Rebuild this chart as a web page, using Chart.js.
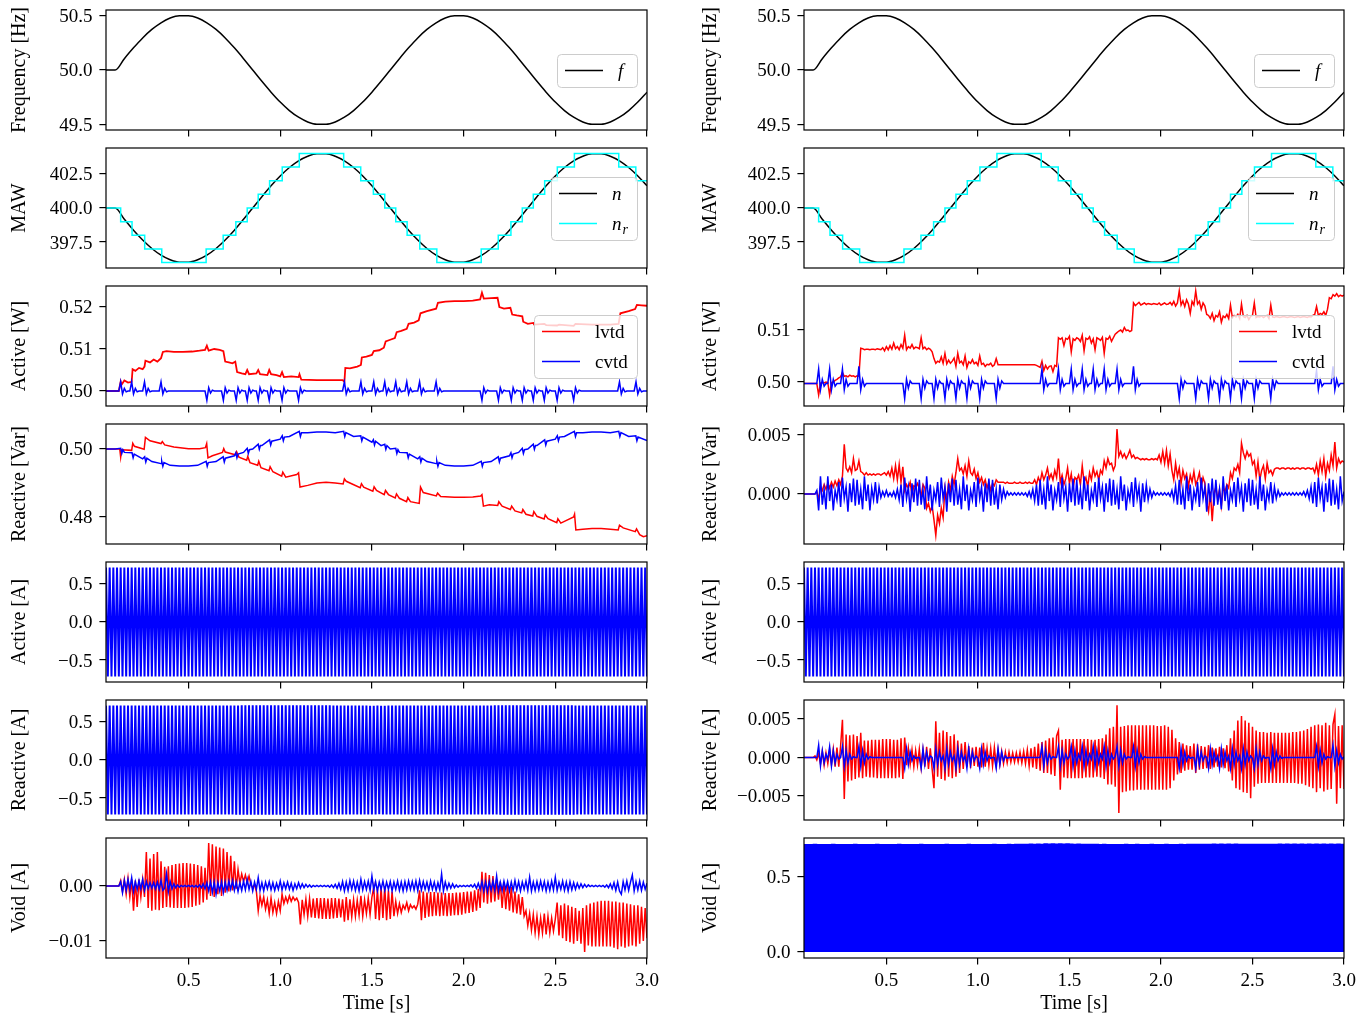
<!DOCTYPE html>
<html><head><meta charset="utf-8">
<script src="https://cdn.jsdelivr.net/npm/chart.js@4.4.0/dist/chart.umd.min.js"></script>
<style>
html,body{margin:0;padding:0;background:#fff;}
#fig{position:relative;width:1370px;height:1016px;overflow:hidden;background:#fff;}
#fig canvas{position:absolute;}
</style></head><body><div id="fig"></div>
<script>
// ---------- tick labels ----------
const timeTicks = [0.5, 1.0, 1.5, 2.0, 2.5, 3.0];
const fTicks = [49.5, 50.0, 50.5];
const mawTicks = [397.5, 400.0, 402.5];
const wTicksL = [0.50, 0.51, 0.52];
const varTicksL = [0.48, 0.50];
const ampTicks = [-0.5, 0.0, 0.5];
const voidTicksL = [-0.01, 0.00];
const wTicksR = [0.50, 0.51];
const varTicksR = [0.000, 0.005];
const raTicksR = [-0.005, 0.000, 0.005];
const voidTicksR = [0.0, 0.5];

// ---------- time bases ----------
const tCoarse = [0.05,0.1,0.15,0.2,0.25,0.3,0.35,0.4,0.45,0.5,0.55,0.6,0.65,0.7,0.75,0.8,0.85,0.9,0.95,1,
1.05,1.1,1.15,1.2,1.25,1.3,1.35,1.4,1.45,1.5,1.55,1.6,1.65,1.7,1.75,1.8,1.85,1.9,1.95,2,
2.05,2.1,2.15,2.2,2.25,2.3,2.35,2.4,2.45,2.5,2.55,2.6,2.65,2.7,2.75,2.8,2.85,2.9,2.95,3];
// sampling grid of the recorded signals: 0.05 s ... 3.00 s every 0.01 s
const tFine = Array.from({length: 296}, (_, i) => (5 + i) / 100);

// ---------- frequency and MAW ----------
const freq = [50,50,50.104,50.203,50.294,50.372,50.433,50.476,50.497,50.497,50.476,50.433,50.372,50.294,50.203,50.104,50,49.896,49.797,49.706,
49.628,49.567,49.524,49.503,49.503,49.524,49.567,49.628,49.706,49.797,49.896,50,50.104,50.203,50.294,50.372,50.433,50.476,50.497,50.497,
50.476,50.433,50.372,50.294,50.203,50.104,50,49.896,49.797,49.706,49.628,49.567,49.524,49.503,49.503,49.524,49.567,49.628,49.706,49.797];
const maw = [400,400,399.17,398.37,397.65,397.03,396.54,396.2,396.02,396.02,396.2,396.54,397.03,397.65,398.37,399.17,400,400.83,401.63,402.35,
402.97,403.46,403.8,403.98,403.98,403.8,403.46,402.97,402.35,401.63,400.83,400,399.17,398.37,397.65,397.03,396.54,396.2,396.02,396.02,
396.2,396.54,397.03,397.65,398.37,399.17,400,400.83,401.63,402.35,402.97,403.46,403.8,403.98,403.98,403.8,403.46,402.97,402.35,401.63];
const tStep = [0.05,0.13,0.192,0.261,0.354,0.596,0.689,0.758,0.82,0.88,0.942,1.011,1.104,1.346,1.439,1.508,1.57,1.63,1.692,1.761,
1.854,2.096,2.189,2.258,2.32,2.38,2.442,2.511,2.604,2.846,2.939,3.0];
const nrStep = [400,399,398,397,396,397,398,399,400,401,402,403,404,403,402,401,400,399,398,397,
396,397,398,399,400,401,402,403,404,403,402,402];

// ---------- left column: active / reactive power [time, value] ----------
const wLvtdL = [[.05,.5],[.12,.5],[.13,.5022],[.135,.5015],[.15,.5025],[.17,.502],[.19,.5022],[.195,.5052],[.21,.5048],[.23,.5055],
[.25,.5052],[.26,.5058],[.265,.5072],[.29,.5068],[.31,.5075],[.33,.507],[.35,.5078],[.36,.5093],[.38,.5095],[.42,.5093],
[.47,.5093],[.52,.5094],[.56,.5096],[.59,.5098],[.6,.5108],[.61,.5096],[.64,.51],[.67,.5098],[.69,.5095],[.7,.507],
[.72,.5068],[.74,.5066],[.755,.507],[.765,.5045],[.79,.5042],[.81,.504],[.82,.505],[.83,.504],[.87,.5042],[.88,.505],
[.89,.504],[.93,.5038],[.94,.505],[.95,.504],[.98,.5038],[1,.5035],[1.01,.5045],[1.02,.5033],[1.06,.5035],[1.1,.5033],
[1.105,.504],[1.115,.5027],[1.2,.5026],[1.3,.5026],[1.34,.5026],[1.35,.5022],[1.355,.5055],[1.38,.5054],[1.42,.5058],[1.44,.5062],
[1.445,.508],[1.47,.5082],[1.5,.5086],[1.51,.5095],[1.54,.5097],[1.565,.5103],[1.575,.5118],[1.6,.5122],[1.625,.5126],[1.635,.514],
[1.66,.5143],[1.69,.5148],[1.7,.516],[1.73,.5163],[1.755,.5168],[1.765,.5185],[1.8,.519],[1.85,.5196],[1.86,.521],[1.9,.5213],
[1.95,.5214],[2,.5214],[2.05,.5215],[2.09,.5218],[2.1,.5234],[2.11,.522],[2.15,.5221],[2.185,.5222],[2.195,.52],[2.22,.5196],
[2.255,.5198],[2.265,.5182],[2.29,.518],[2.32,.5178],[2.325,.5165],[2.35,.516],[2.38,.5162],[2.385,.5158],[2.44,.516],[2.45,.5157],
[2.51,.5156],[2.52,.5158],[2.6,.5155],[2.61,.516],[2.7,.5158],[2.8,.5158],[2.845,.516],[2.855,.5185],[2.9,.519],[2.935,.5195],
[2.945,.5205],[2.97,.5204],[3,.5203]];
const wCvtdL = [
.5,.5,.5,.5,.5,.5,.5,.5,.5022,.4993,
.5006,.4998,.5,.5,.5022,.4993,.5006,.4998,.5,.5,
.5,.5022,.4993,.5006,.4998,.5,.5,.5,.5,.5,
.5022,.4993,.5006,.4998,.5,.5,.5,.5,.5,.5,
.5,.5,.5,.5,.5,.5,.5,.5,.5,.5,
.5,.5,.5,.5,.5,.4978,.5008,.4995,.5002,.5,
.5,.5,.5,.5,.4978,.5008,.4995,.5002,.5,.5,
.5,.4978,.5008,.4995,.5002,.5,.5,.4978,.5008,.4995,
.5002,.5,.5,.4978,.5008,.4995,.5002,.5,.5,.4978,
.5008,.4995,.5002,.5,.5,.5,.4978,.5008,.4995,.5002,
.5,.5,.5,.5,.5,.4978,.5008,.4995,.5002,.5,
.5,.5,.5,.5,.5,.5,.5,.5,.5,.5,
.5,.5,.5,.5,.5,.5,.5,.5,.5,.5,
.5022,.4993,.5006,.4998,.5,.5,.5,.5,.5,.5022,
.4993,.5006,.4998,.5,.5,.5,.5022,.4993,.5006,.4998,
.5,.5,.5022,.4993,.5006,.4998,.5,.5,.5022,.4993,
.5006,.4998,.5,.5,.5022,.4993,.5006,.4998,.5,.5,
.5,.5022,.4993,.5006,.4998,.5,.5,.5,.5,.5,
.5022,.4993,.5006,.4998,.5,.5,.5,.5,.5,.5,
.5,.5,.5,.5,.5,.5,.5,.5,.5,.5,
.5,.5,.5,.5,.5,.4978,.5008,.4995,.5002,.5,
.5,.5,.5,.5,.4978,.5008,.4995,.5002,.5,.5,
.5,.4978,.5008,.4995,.5002,.5,.5,.4978,.5008,.4995,
.5002,.5,.5,.4978,.5008,.4995,.5002,.5,.5,.4978,
.5008,.4995,.5002,.5,.5,.5,.4978,.5008,.4995,.5002,
.5,.5,.5,.5,.5,.4978,.5008,.4995,.5002,.5,
.5,.5,.5,.5,.5,.5,.5,.5,.5,.5,
.5,.5,.5,.5,.5,.5,.5,.5,.5,.5,
.5022,.4993,.5006,.4998,.5,.5,.5,.5,.5,.5022,
.4993,.5006,.4998,.5,.5,.5];
const varLvtdL = [[.05,.5],[.125,.5],[.13,.4976],[.135,.4998],[.19,.4996],[.196,.5017],[.205,.5008],[.258,.4999],[.265,.5034],[.29,.5024],
[.35,.5016],[.357,.5022],[.37,.5012],[.42,.5006],[.5,.5001],[.56,.5001],[.592,.5004],[.599,.5016],[.606,.4974],[.63,.498],
[.685,.499],[.692,.5001],[.7,.4991],[.755,.4983],[.762,.4992],[.775,.4976],[.817,.4967],[.823,.4978],[.835,.496],[.877,.4952],
[.883,.4964],[.895,.4945],[.939,.4936],[.945,.4948],[.96,.4933],[1.008,.492],[1.014,.4932],[1.03,.4917],[1.09,.4925],[1.1,.493],
[1.108,.4888],[1.15,.4893],[1.2,.49],[1.25,.4902],[1.3,.49],[1.343,.4897],[1.35,.4912],[1.36,.4905],[1.436,.4886],[1.443,.4898],
[1.455,.4888],[1.505,.4876],[1.512,.4889],[1.525,.4878],[1.567,.4866],[1.574,.4878],[1.59,.4866],[1.627,.4856],[1.634,.4868],[1.65,.4855],
[1.689,.4845],[1.696,.4857],[1.71,.4845],[1.758,.484],[1.765,.4888],[1.78,.4872],[1.851,.4862],[1.858,.487],[1.875,.486],[1.95,.4858],
[2,.4858],[2.05,.4859],[2.093,.4862],[2.1,.4866],[2.108,.4832],[2.14,.4836],[2.186,.4834],[2.192,.4845],[2.21,.4832],[2.255,.4822],
[2.262,.4832],[2.28,.4818],[2.317,.4812],[2.323,.4822],[2.34,.4808],[2.377,.4803],[2.383,.4816],[2.4,.4802],[2.439,.4794],[2.445,.4806],
[2.46,.4795],[2.508,.4783],[2.514,.4795],[2.53,.4782],[2.6,.48],[2.605,.4808],[2.612,.4762],[2.65,.4764],[2.7,.4766],[2.75,.4766],
[2.8,.4764],[2.843,.4762],[2.85,.4776],[2.87,.4768],[2.936,.4757],[2.943,.4765],[2.96,.4748],[2.98,.4742],[3,.4745]];
const varCvtdL = [[.05,.5],[.1,.5],[.13,.5002],[.136,.4987],[.142,.4998],[.15,.499],[.192,.4989],[.198,.4974],[.204,.4985],[.25,.4971],
[.261,.4977],[.267,.4962],[.273,.4973],[.3,.4963],[.35,.4957],[.354,.4964],[.36,.4949],[.366,.496],[.4,.4952],[.45,.495],
[.5,.495],[.55,.4952],[.596,.4964],[.602,.4949],[.608,.496],[.65,.4963],[.689,.4977],[.695,.4962],[.701,.4973],[.75,.498],
[.758,.4989],[.764,.4974],[.77,.4985],[.8,.499],[.82,.5002],[.826,.4987],[.832,.4998],[.85,.5],[.88,.5014],[.886,.4999],
[.892,.501],[.9,.501],[.942,.5027],[.948,.5012],[.954,.5023],[1,.5029],[1.011,.5039],[1.017,.5024],[1.023,.5035],[1.05,.5037],
[1.104,.5052],[1.11,.5037],[1.116,.5048],[1.15,.5048],[1.2,.505],[1.25,.505],[1.3,.5048],[1.346,.5052],[1.352,.5037],[1.358,.5048],
[1.4,.5037],[1.439,.5039],[1.445,.5024],[1.451,.5035],[1.5,.502],[1.508,.5027],[1.514,.5012],[1.52,.5023],[1.55,.501],[1.57,.5014],
[1.576,.4999],[1.582,.501],[1.6,.5],[1.63,.5002],[1.636,.4987],[1.642,.4998],[1.65,.499],[1.692,.4989],[1.698,.4974],[1.704,.4985],
[1.75,.4971],[1.761,.4977],[1.767,.4962],[1.773,.4973],[1.8,.4963],[1.85,.4957],[1.854,.4964],[1.86,.4949],[1.866,.496],[1.9,.4952],
[1.95,.495],[2,.495],[2.05,.4952],[2.096,.4964],[2.102,.4949],[2.108,.496],[2.15,.4963],[2.189,.4977],[2.195,.4962],[2.201,.4973],
[2.25,.498],[2.258,.4989],[2.264,.4974],[2.27,.4985],[2.3,.499],[2.32,.5002],[2.326,.4987],[2.332,.4998],[2.35,.5],[2.38,.5014],
[2.386,.4999],[2.392,.501],[2.4,.501],[2.442,.5027],[2.448,.5012],[2.454,.5023],[2.5,.5029],[2.511,.5039],[2.517,.5024],[2.523,.5035],
[2.55,.5037],[2.604,.5052],[2.61,.5037],[2.616,.5048],[2.65,.5048],[2.7,.505],[2.75,.505],[2.8,.5048],[2.846,.5052],[2.852,.5037],
[2.858,.5048],[2.9,.5037],[2.939,.5039],[2.945,.5024],[2.951,.5035],[3,.5025]];

// ---------- currents (sampled every 0.01 s) ----------
const iActive = [
.717,-.717,.717,-.717,.717,-.717,.717,-.717,.717,-.717,
.717,-.717,.716,-.717,.717,-.717,.717,-.718,.717,-.717,
.717,-.717,.717,-.717,.717,-.716,.717,-.717,.717,-.717,
.717,-.717,.717,-.717,.718,-.717,.717,-.717,.717,-.717,
.716,-.717,.717,-.717,.717,-.717,.717,-.717,.717,-.718,
.717,-.717,.717,-.717,.717,-.717,.716,-.717,.717,-.717,
.717,-.717,.717,-.718,.717,-.717,.717,-.717,.717,-.717,
.717,-.716,.717,-.717,.717,-.717,.717,-.717,.718,-.717,
.717,-.717,.717,-.717,.717,-.717,.717,-.717,.717,-.717,
.717,-.717,.716,-.717,.717,-.718,.717,-.717,.717,-.717,
.717,-.717,.717,-.717,.717,-.717,.717,-.716,.717,-.717,
.718,-.717,.717,-.717,.717,-.717,.717,-.717,.717,-.717,
.717,-.717,.717,-.717,.716,-.717,.717,-.717,.717,-.718,
.717,-.717,.717,-.717,.717,-.717,.717,-.717,.717,-.717,
.717,-.718,.717,-.717,.717,-.717,.718,-.717,.717,-.717,
.717,-.717,.717,-.717,.717,-.716,.717,-.717,.717,-.717,
.716,-.717,.717,-.717,.717,-.717,.717,-.717,.717,-.717,
.717,-.717,.717,-.718,.717,-.717,.717,-.717,.716,-.717,
.717,-.717,.717,-.717,.717,-.717,.717,-.717,.717,-.717,
.717,-.716,.717,-.717,.718,-.717,.717,-.717,.717,-.717,
.717,-.717,.717,-.717,.717,-.717,.717,-.718,.717,-.717,
.717,-.717,.716,-.717,.717,-.717,.717,-.717,.717,-.717,
.718,-.717,.717,-.717,.717,-.717,.717,-.717,.717,-.716,
.717,-.717,.717,-.717,.717,-.718,.717,-.717,.717,-.717,
.717,-.717,.717,-.716,.717,-.717,.717,-.717,.718,-.717,
.717,-.717,.717,-.717,.717,-.717,.716,-.717,.717,-.717,
.717,-.718,.717,-.717,.717,-.717,.717,-.717,.717,-.717,
.717,-.717,.717,-.717,.716,-.717,.717,-.717,.717,-.718,
.717,-.717,.718,-.717,.717,-.717,.717,-.717,.717,-.717,
.717,-.717,.717,-.716,.717,-.717];
const iReactiveL = [
.715,-.716,.715,-.716,.716,-.716,.715,-.716,.716,-.716,
.716,-.716,.715,-.716,.716,-.717,.716,-.716,.716,-.716,
.716,-.717,.716,-.716,.716,-.716,.717,-.716,.716,-.716,
.716,-.716,.716,-.717,.716,-.716,.716,-.716,.716,-.716,
.716,-.715,.716,-.716,.715,-.716,.716,-.716,.715,-.716,
.715,-.716,.716,-.715,.716,-.716,.716,-.716,.716,-.717,
.716,-.717,.717,-.717,.717,-.718,.717,-.718,.718,-.718,
.718,-.719,.718,-.719,.719,-.719,.719,-.72,.719,-.72,
.72,-.72,.72,-.72,.72,-.721,.72,-.72,.721,-.72,
.72,-.721,.72,-.721,.721,-.72,.721,-.721,.72,-.721,
.721,-.721,.72,-.721,.721,-.72,.721,-.721,.72,-.721,
.72,-.72,.721,-.72,.72,-.72,.72,-.719,.72,-.719,
.719,-.719,.719,-.718,.718,-.718,.718,-.717,.717,-.717,
.717,-.716,.716,-.716,.716,-.715,.716,-.715,.715,-.715,
.715,-.715,.715,-.715,.714,-.715,.714,-.715,.715,-.714,
.714,-.715,.714,-.715,.715,-.715,.715,-.715,.715,-.716,
.716,-.716,.716,-.716,.716,-.716,.716,-.716,.716,-.716,
.716,-.716,.716,-.716,.716,-.716,.715,-.716,.716,-.716,
.715,-.716,.716,-.715,.716,-.716,.715,-.716,.716,-.716,
.716,-.716,.716,-.716,.716,-.717,.716,-.716,.717,-.716,
.717,-.717,.717,-.717,.717,-.718,.717,-.718,.718,-.718,
.718,-.718,.719,-.718,.719,-.719,.719,-.719,.72,-.719,
.72,-.72,.72,-.72,.72,-.72,.721,-.72,.72,-.721,
.721,-.72,.721,-.721,.72,-.721,.721,-.721,.721,-.72,
.721,-.721,.72,-.721,.721,-.72,.72,-.72,.72,-.72,
.72,-.719,.719,-.719,.719,-.719,.718,-.718,.718,-.718,
.718,-.717,.717,-.717,.717,-.717,.716,-.716,.716,-.716,
.716,-.716,.716,-.715,.716,-.716,.715,-.716,.716,-.715,
.715,-.716,.716,-.716,.715,-.716,.716,-.716,.716,-.716,
.716,-.716,.717,-.716,.716,-.717];
const voidLvtdL = [
0,0,0,0,0,0,0,0,.001,-.001,
.0012,-.0015,.0014,-.002,.0012,-.0045,.001,-.0038,.0012,-.002,
.0012,-.002,.0062,-.004,.005,-.0045,.0058,-.0043,.0062,-.0044,
.0045,-.004,.0035,-.0038,.0036,-.0039,.0038,-.004,.004,-.004,
.0041,-.004,.0042,-.004,.0042,-.0039,.0041,-.0038,.004,-.0036,
.0038,-.0034,.0036,-.003,.0033,-.0025,.0078,-.0018,.0076,-.002,
.0072,-.0015,.007,-.0018,.0068,-.0012,.0062,-.001,.0055,-.0008,
.0045,-.0005,.003,.0005,.0022,.0008,.002,.0006,.0018,.0003,
-.0003,.0002,-.001,-.0045,-.0018,-.0035,-.002,-.0042,-.0025,-.005,
-.0022,-.0048,-.003,-.005,-.0028,-.0045,-.0015,-.0032,-.002,-.003,
-.0018,-.0028,-.002,-.0026,-.0022,-.003,-.007,-.0025,-.0052,-.0024,
-.0055,-.0023,-.0057,-.0023,-.0058,-.0022,-.0059,-.0022,-.006,-.0022,
-.006,-.0023,-.006,-.0022,-.0059,-.0022,-.0058,-.0023,-.0057,-.0024,
-.0065,-.002,-.0062,-.0024,-.0056,-.0025,-.0055,-.0026,-.0053,-.0018,
-.0055,-.0025,-.005,-.0022,-.0052,-.002,-.0002,-.006,-.0005,-.0062,
-.0003,-.0058,-.0001,-.0062,-.0008,-.006,-.001,-.0055,-.0028,-.005,
-.0032,-.0048,-.0035,-.0042,-.003,-.0045,-.0034,-.004,-.0036,-.0042,
-.0033,-.0008,-.0062,-.001,-.0058,-.0012,-.0056,-.0011,-.0055,-.0011,
-.0054,-.0012,-.0055,-.0012,-.0054,-.0013,-.0055,-.0013,-.0054,-.0013,
-.0053,-.0012,-.0053,-.0012,-.0052,-.0011,-.005,-.001,-.0049,-.001,
-.0047,-.0008,-.0045,-.0005,-.004,.0026,-.003,.0024,-.0032,.002,
-.003,.0018,-.0028,.0012,-.0025,.0008,-.004,.0005,-.0042,.0002,
-.0045,-.0002,-.0048,-.001,-.005,-.0015,-.0052,-.002,-.0055,-.0045,
-.0072,-.005,-.008,-.0052,-.0085,-.0055,-.0088,-.0058,-.0085,-.005,
-.0088,-.0055,-.0085,-.0058,-.0082,-.006,-.003,-.009,-.0035,-.0095,
-.0032,-.01,-.0035,-.0102,-.0038,-.0105,-.004,-.01,-.0045,-.0105,
-.004,-.012,-.0035,-.0108,-.0032,-.011,-.003,-.011,-.0028,-.011,
-.0027,-.011,-.0027,-.011,-.0027,-.011,-.0028,-.0112,-.0028,-.0115,
-.003,-.011,-.003,-.0112,-.0032,-.011,-.0033,-.0108,-.0035,-.011,
-.0035,-.0105,-.0038,-.01,-.004,-.0095];
const voidCvtdL = [
0,0,0,0,0,0,0,0,.0008,-.0012,
.001,-.0008,.0012,-.0006,.0015,-.001,.0008,-.0006,.001,-.0005,
.0012,-.0008,.0008,-.0005,.0006,-.0004,.0006,-.0005,.0007,-.0006,
.001,-.0008,-.0004,.0022,-.001,.0008,-.0005,.0004,-.0003,.0002,
-.0002,.0001,-.0001,.0001,-.0001,.0001,-.0001,.0001,-.0002,.0001,
-.0002,.0002,-.0003,.0004,-.0005,.0006,-.0009,.0008,-.0012,.0007,
-.0015,.0006,-.0009,.0008,-.0012,.0007,-.0008,.0009,-.0006,.001,
-.0008,.0007,-.001,.0006,-.0008,.0009,-.0007,.0012,-.0006,.0008,
-.0009,.0007,-.0006,.0015,-.0008,.0006,-.0009,.0007,-.0005,.0008,
-.0007,.0006,-.0008,.0005,-.0006,.0009,-.0007,.0006,-.0005,.0007,
-.0006,.0005,-.0008,.0004,-.0005,.0006,-.0004,.0004,-.0003,.0003,
-.0002,.0002,-.0002,.0001,-.0001,.0001,-.0001,.0001,-.0001,.0001,
-.0001,.0001,-.0002,.0002,-.0003,.0003,-.0004,.0005,-.0006,.0008,
-.0009,.0007,-.0008,.001,-.0006,.0009,-.0008,.0007,-.0009,.0012,
-.0007,.0008,-.0006,.0009,-.0008,.0018,-.0007,.0008,-.0009,.0007,
-.0006,.0009,-.0008,.0007,-.0006,.0008,-.0009,.0007,-.0006,.0009,
-.0008,.0007,-.0009,.0008,-.0007,.0009,-.0006,.0008,-.0007,.0009,
-.0008,.001,-.0007,.0008,-.0006,.0007,-.0008,.0009,-.0006,.0007,
-.0008,.0006,-.0007,.0022,-.0009,.0007,-.0006,.0005,-.0004,.0004,
-.0003,.0002,-.0002,.0001,-.0001,.0001,-.0001,.0001,-.0001,.0002,
-.0002,.0003,-.0004,.0005,-.0006,.0008,-.0009,.0007,-.001,.0008,
-.0007,.0009,-.0008,.0018,-.0009,.0007,-.0008,.0009,-.0006,.0008,
-.0009,.0007,-.0008,.001,-.0007,.0008,-.0009,.0007,-.0006,.0009,
-.0008,.0016,-.0009,.0007,-.0008,.0008,-.0007,.0009,-.0006,.0008,
-.0009,.0007,-.0008,.0009,-.0007,.0016,-.0008,.0007,-.0006,.0009,
-.0008,.0007,-.0009,.0008,-.0007,.0006,-.0006,.0005,-.0004,.0004,
-.0003,.0003,-.0002,.0002,-.0001,.0001,-.0001,.0001,-.0001,.0001,
-.0001,.0001,-.0002,.0002,-.0003,.0004,-.0005,.0006,-.0008,.0007,
-.0009,-.0015,.0008,-.0007,.0009,-.0008,.0007,.002,-.0009,.0008,
-.0007,.0009,-.0008,.0007,-.0006,.0005];

// ---------- right column ----------
const wLvtdR = [
.4997,.4997,.4997,.4997,.4997,.4997,.4997,.4997,.4975,.4998,
.4999,.4998,.5,.4999,.4975,.4999,.5,.5003,.5005,.5008,
.501,.5018,.5011,.5012,.501,.5013,.5011,.5012,.501,.5012,
.5011,.5065,.5064,.5062,.5063,.5063,.5062,.5063,.5063,.5062,
.5064,.5063,.5062,.5066,.506,.5068,.5062,.507,.5063,.5075,
.5064,.5068,.5062,.5072,.5065,.509,.5062,.5068,.5065,.5072,
.5064,.5067,.5066,.5064,.5085,.5064,.5067,.5062,.5065,.5063,
.5058,.5045,.5036,.504,.5038,.5048,.5036,.5055,.5035,.5042,
.5036,.504,.5046,.503,.5055,.5037,.504,.5033,.505,.5028,
.5039,.5036,.5043,.5035,.5038,.5032,.505,.5034,.5036,.503,
.5034,.5033,.5036,.503,.5033,.5045,.5033,.5033,.5033,.5033,
.5033,.5033,.5033,.5033,.5033,.5033,.5033,.5033,.5033,.5033,
.5033,.5033,.5033,.5033,.5033,.5033,.5033,.5032,.503,.5028,
.504,.5022,.5032,.5025,.503,.5031,.502,.5032,.503,.5085,
.5082,.5085,.507,.5084,.5082,.5088,.5058,.5083,.508,.5085,
.5083,.5078,.509,.506,.5084,.5082,.5087,.5075,.5083,.5062,
.5085,.5083,.508,.5086,.5055,.5084,.5082,.5088,.5078,.5085,
.5092,.5095,.5098,.51,.5096,.5105,.5099,.51,.5097,.5099,
.5152,.5147,.515,.5153,.5148,.515,.5152,.5149,.5151,.515,
.5149,.5151,.515,.5149,.5152,.5148,.515,.5152,.5149,.515,
.5153,.5148,.5155,.5146,.5152,.5175,.5148,.5156,.5145,.5158,
.515,.5132,.5155,.5148,.5175,.515,.5155,.514,.5152,.5146,
.513,.5128,.5122,.5132,.5118,.5128,.5125,.5135,.5115,.5127,
.5124,.513,.5122,.5148,.5124,.5128,.5125,.513,.5122,.515,
.5126,.5124,.5128,.512,.5126,.5128,.5152,.5124,.5126,.5125,
.5127,.5124,.5126,.5128,.5122,.5148,.5125,.5124,.5126,.5125,
.5124,.5125,.5126,.5125,.5124,.5125,.5126,.5125,.5124,.5125,
.5126,.5124,.5125,.5126,.5125,.5124,.5126,.5125,.5128,.513,
.5145,.5128,.5132,.513,.5135,.5128,.514,.5162,.516,.5168,
.5165,.517,.5164,.5167,.5165,.5167];
const wCvtdR = [
.4997,.4997,.4997,.4997,.4997,.4997,.4997,.4997,.5025,.4985,
.5005,.4992,.4997,.4997,.5025,.4985,.5005,.4992,.4997,.4997,
.4997,.5025,.4985,.5005,.4992,.4997,.4997,.4997,.4997,.4997,
.503,.4985,.5005,.4992,.4997,.4997,.4997,.4997,.4997,.4997,
.4997,.4997,.4997,.4997,.4997,.4997,.4997,.4997,.4997,.4997,
.4997,.4997,.4997,.4997,.4997,.4968,.5005,.4988,.5002,.4997,
.4997,.4997,.4997,.4997,.4968,.5005,.4988,.5002,.4997,.4997,
.4997,.4968,.5005,.4988,.5002,.4997,.4997,.4968,.5005,.4988,
.5002,.4997,.4997,.4968,.5005,.4988,.5002,.4997,.4997,.4968,
.5005,.4988,.5002,.4997,.4997,.4997,.4968,.5005,.4988,.5002,
.4997,.4997,.4997,.4997,.4997,.4968,.5005,.4988,.5002,.4997,
.4997,.4997,.4997,.4997,.4997,.4997,.4997,.4997,.4997,.4997,
.4997,.4997,.4997,.4997,.4997,.4997,.4997,.4997,.4997,.4997,
.5025,.4985,.5005,.4992,.4997,.4997,.4997,.4997,.4997,.5025,
.4985,.5005,.4992,.4997,.4997,.4997,.5025,.4985,.5005,.4992,
.4997,.4997,.5025,.4985,.5005,.4992,.4997,.4997,.5025,.4985,
.5005,.4992,.4997,.4997,.5025,.4985,.5005,.4992,.4997,.4997,
.4997,.5025,.4985,.5005,.4992,.4997,.4997,.4997,.4997,.4997,
.503,.4985,.5005,.4992,.4997,.4997,.4997,.4997,.4997,.4997,
.4997,.4997,.4997,.4997,.4997,.4997,.4997,.4997,.4997,.4997,
.4997,.4997,.4997,.4997,.4997,.4968,.5005,.4988,.5002,.4997,
.4997,.4997,.4997,.4997,.4968,.5005,.4988,.5002,.4997,.4997,
.4997,.4968,.5005,.4988,.5002,.4997,.4997,.4968,.5005,.4988,
.5002,.4997,.4997,.4968,.5005,.4988,.5002,.4997,.4997,.4968,
.5005,.4988,.5002,.4997,.4997,.4997,.4968,.5005,.4988,.5002,
.4997,.4997,.4997,.4997,.4997,.4968,.5005,.4988,.5002,.4997,
.4997,.4997,.4997,.4997,.4997,.4997,.4997,.4997,.4997,.4997,
.4997,.4997,.4997,.4997,.4997,.4997,.4997,.4997,.4997,.4997,
.5022,.4985,.5005,.4992,.4997,.4997,.4997,.4997,.4997,.503,
.4985,.5005,.4992,.4997,.4997,.4997];
const varLvtdR = [
0,0,0,0,0,0,0,.0002,-.0005,.0006,
.0003,.0008,.0004,.0009,.0005,.001,.0006,.0011,.0007,.0012,
.0008,.0015,.0042,.0022,.0019,.0023,.0018,.003,.002,.0021,
.0028,.0019,.0018,.0016,.0018,.0016,.0017,.0016,.0017,.0016,
.0017,.0017,.0016,.0017,.0018,.0016,.0019,.0015,.0022,.0013,
.0024,.0012,.0025,.001,.0023,.0003,.0008,.0005,.001,-.0001,
.0007,.0006,.0009,.0004,-.0002,.0008,.0005,-.0012,-.0008,-.0015,
-.001,-.0022,-.0035,-.0018,-.0025,-.0012,-.002,.0005,-.0005,.001,
.0003,.0015,.0008,.0018,.003,.002,.0022,.0017,.0024,.0015,
.0028,.0018,.0016,.0021,.0013,.0018,.001,.0014,.0008,.0012,
.0005,.001,.0003,.0009,.0007,.0012,.001,.001,.001,.001,
.0009,.001,.0009,.0009,.0009,.001,.0009,.0009,.001,.0009,
.0009,.001,.0009,.001,.0009,.0009,.0012,.0008,.0014,.001,
.0018,.0012,.0016,.0022,.0013,.0017,.0012,.002,.0014,.003,
.001,.0016,.0008,.0013,.0022,.0009,.0017,.0005,.0014,.0012,
.0016,.0008,.0024,.001,.0014,.0006,.0018,.0012,.0022,.0015,
.0019,.0012,.002,.0017,.0028,.0022,.003,.0025,.0026,.002,
.0024,.0055,.0032,.0036,.0031,.0034,.003,.0033,.0037,.0031,
.0033,.003,.0031,.003,.0029,.003,.0029,.003,.0029,.0029,
.003,.0029,.003,.0029,.0033,.0027,.0036,.0026,.0037,.0024,
.0034,.002,.0012,.0026,.0015,.0022,.0009,.002,.0013,.0017,
.0006,.0016,.001,.0019,.0008,.0012,.0018,.0006,.0014,.0009,
-.0008,-.0015,.0002,-.0023,0,.0006,-.0005,.0004,-.001,.0005,
.0002,.0008,.0005,.0018,.0013,.0022,.002,.0025,.0018,.0043,
.0035,.003,.0036,.0032,.0034,.0025,.0028,.0015,.0027,.0012,
.002,.0024,.0013,.0026,.0018,.002,.0016,.0021,.0022,.0022,
.0021,.0022,.0022,.0021,.0022,.0022,.0021,.0022,.0021,.0022,
.0022,.0021,.0022,.0022,.0021,.0022,.0022,.0021,.0022,.0018,
.0025,.0016,.0028,.0019,.003,.0015,.0026,.002,.0033,.0024,
.0044,.0022,.003,.0026,.0028,.0027];
const varCvtdR = [
0,0,0,0,0,0,0,.0003,-.0014,.0015,
-.0009,.0004,-.0013,.0015,-.0006,.0008,-.0014,.0003,-.0005,.001,
-.0011,.0014,-.0004,.0006,-.0015,.0009,-.0007,.0013,-.001,.0012,
-.0009,.0004,-.0013,.0015,-.0006,.0008,-.0014,.0005,-.0005,.001,
-.0008,.0006,-.0003,.0002,-.0002,.0003,-.0002,.0001,-.0002,.0002,
-.0003,.0004,-.0005,.0008,-.0011,.0014,-.0004,.0006,-.0015,.0009,
-.0007,.0013,-.001,.0012,-.0009,.0004,-.0013,.0015,-.0006,.0008,
-.0014,.0003,-.0005,.001,-.0011,.0014,-.0004,.0006,-.0015,.0009,
-.0007,.0013,-.001,.0012,-.0009,.0004,-.0013,.0015,-.0006,.0008,
-.0014,.0003,-.0005,.001,-.0011,.0014,-.0004,.0006,-.0015,.0009,
-.0007,.0013,-.001,.0012,-.0009,.0004,-.0013,.0008,-.0005,.0004,
-.0003,.0002,-.0001,.0001,-.0001,.0001,-.0001,.0001,-.0001,.0001,
-.0001,.0001,-.0002,.0002,-.0003,.0004,-.0006,.0008,-.001,.0012,
-.0009,.0004,-.0013,.0015,-.0006,.0008,-.0014,.0003,-.0005,.001,
-.0011,.0014,-.0004,.0006,-.0015,.0009,-.0007,.0013,-.001,.0012,
-.0009,.0004,-.0013,.0015,-.0006,.0008,-.0014,.0003,-.0005,.001,
-.0011,.0014,-.0004,.0006,-.0015,.0009,-.0007,.0013,-.001,.0012,
-.0009,.0004,-.0013,.0015,-.0006,.0008,-.0014,.0003,-.0005,.001,
-.0011,.0014,-.0004,.0006,-.0015,.0009,-.0007,.0008,-.0005,.0004,
-.0003,.0002,-.0001,.0001,-.0001,.0001,-.0001,.0001,-.0001,.0001,
-.0002,.0003,-.0005,.0007,-.0009,.0012,-.0009,.0004,-.0013,.0015,
-.0006,.0008,-.0014,.0003,-.0005,.001,-.0011,.0014,-.0004,.0006,
-.0015,.0009,-.0007,.0013,-.001,.0012,-.0009,.0004,-.0013,.0015,
-.0006,.0008,-.0014,.0003,-.0005,.001,-.0011,.0014,-.0004,.0006,
-.0015,.0009,-.0007,.0013,-.001,.0012,-.0009,.0004,-.0013,.0015,
-.0006,.0008,-.0014,.0003,-.0005,.001,-.0008,.0006,-.0004,.0003,
-.0002,.0001,-.0001,.0001,-.0001,.0001,-.0001,.0001,-.0001,.0001,
-.0001,.0001,-.0001,.0002,-.0002,.0003,-.0004,.0006,-.0008,.001,
-.0011,.0014,-.0004,.0006,-.0015,.0009,-.0007,.0013,-.001,.0012,
-.0009,.0004,-.0013,.0015,-.0006,.0002];
const raLvtdR = [
0,0,0,0,0,0,.0002,-.0003,.0005,-.0008,
.0008,-.001,.0006,-.0008,.001,-.0009,.0011,-.0012,.0013,-.0012,
.0015,.0049,-.0054,.003,-.0031,.0029,-.003,.003,-.0028,.0028,
-.0026,.0032,-.0027,.0022,-.0025,.0022,-.0026,.0023,-.0026,.0023,
-.0027,.0023,-.0027,.0024,-.0027,.0024,-.0027,.0024,-.0027,.0023,
-.0027,.0023,-.0026,.0025,-.0028,.0026,-.001,.0012,-.0009,.001,
-.0012,.0009,-.001,.0011,-.0013,.001,-.0012,.0014,-.0015,.0012,
-.0015,-.004,.0047,-.0025,.0032,-.0028,.0035,-.003,.0033,-.0025,
.0028,-.0027,.003,-.0025,.0022,-.002,.0018,-.0015,.002,-.0012,
.0015,-.0014,.0013,-.0011,.0014,-.0012,.0013,-.0013,.0019,-.0012,
.0012,-.001,.0012,-.0011,.0013,-.001,.001,-.0009,.0008,-.0008,
.0007,-.0007,.0007,-.0006,.0006,-.0006,.0006,-.0006,.0007,-.0007,
.0008,-.0008,.001,-.0011,.0012,-.0013,.0014,-.0015,.0018,-.0017,
.002,-.002,.0022,-.002,.0025,-.0022,.0026,-.0024,.0028,.0035,
-.0042,.0023,-.0026,.0024,-.0027,.0024,-.0027,.0024,-.0027,.0024,
-.0027,.0024,-.0027,.0024,-.0026,.0024,-.0026,.0023,-.0026,.0023,
-.0025,.0024,-.0026,.0025,-.0028,.003,-.0035,.0038,-.0035,.004,
-.0038,.0068,-.0072,.004,-.0045,.0041,-.0044,.0042,-.0043,.0042,
-.0043,.0042,-.0042,.0042,-.0042,.0042,-.0042,.0042,-.0042,.0042,
-.0042,.0042,-.0042,.0041,-.0042,.0041,-.0042,.0042,-.0042,.004,
-.004,.0036,-.003,.0025,-.0022,.002,-.002,.0018,-.0017,.0016,
-.0016,.0015,-.0016,.0018,-.002,.0017,-.0016,.0015,-.0015,.0014,
-.0014,.0016,-.0015,.0013,-.0013,.0012,-.0012,.0014,-.0013,.0012,
-.0014,.0016,-.0018,.0025,-.003,.0035,-.004,.0048,-.0042,.0054,
-.0045,.0048,-.0046,.0045,-.0053,.004,-.0038,.0035,-.0034,.0033,
-.0033,.0033,-.0033,.0032,-.0033,.0033,-.0033,.0032,-.0033,.0032,
-.0033,.0032,-.0033,.0032,-.0033,.0032,-.0033,.0033,-.0033,.0033,
-.0034,.0034,-.0034,.0035,-.0036,.0037,-.0038,.004,-.004,.0042,
-.0045,.0043,-.004,.0042,-.0044,.0045,-.0042,.0042,-.0041,.0043,
.0056,-.006,.0041,-.004,.0042,-.0041];
const raCvtdR = [
0,0,0,0,0,0,0,0,.0016,-.0011,
.0009,-.0007,.0004,-.0002,.0014,-.0011,.0009,-.0007,.0004,-.0002,
0,.0014,-.0011,.0009,-.0007,.0004,-.0002,.0001,0,0,
.0014,-.0011,.0009,-.0007,.0004,-.0002,.0001,0,0,0,
0,0,0,0,0,0,0,0,0,0,
0,0,0,0,0,-.0014,.0011,-.0009,.0007,-.0004,
.0002,-.0001,0,0,-.0014,.0011,-.0009,.0007,-.0004,.0002,
0,-.0014,.0011,-.0009,.0007,-.0004,.0002,-.0014,.0011,-.0009,
.0007,-.0004,.0002,-.0014,.0011,-.0009,.0007,-.0004,.0002,-.0014,
.0011,-.0009,.0007,-.0004,.0002,-.0001,-.0014,.0011,-.0009,.0007,
-.0004,.0002,-.0001,0,0,-.0014,.0011,-.0009,.0007,-.0004,
.0002,-.0001,0,0,0,0,0,0,0,0,
0,0,0,0,0,0,0,0,0,0,
.0014,-.0011,.0009,-.0007,.0004,-.0002,.0001,0,0,.0014,
-.0011,.0009,-.0007,.0004,-.0002,.0001,.0014,-.0011,.0009,-.0007,
.0004,-.0002,.0014,-.0011,.0009,-.0007,.0004,-.0002,.0014,-.0011,
.0009,-.0007,.0004,-.0002,.0014,-.0011,.0009,-.0007,.0004,-.0002,
.0001,.0014,-.0011,.0009,-.0007,.0004,-.0002,.0001,0,0,
.0014,-.0011,.0009,-.0007,.0004,-.0002,.0001,0,0,0,
0,0,0,0,0,0,0,0,0,0,
0,0,0,0,0,-.0014,.0011,-.0009,.0007,-.0004,
.0002,-.0001,0,0,-.0014,.0011,-.0009,.0007,-.0004,.0002,
0,-.0014,.0011,-.0009,.0007,-.0004,.0002,-.0014,.0011,-.0009,
.0007,-.0004,.0002,-.0014,.0011,-.0009,.0007,-.0004,.0002,-.0014,
.0011,-.0009,.0007,-.0004,.0002,-.0001,-.0014,.0011,-.0009,.0007,
-.0004,.0002,-.0001,0,0,-.0014,.0011,-.0009,.0007,-.0004,
.0002,-.0001,0,0,0,0,0,0,0,0,
0,0,0,0,0,0,0,0,0,0,
.0014,-.0011,.0009,-.0007,.0004,-.0002,.0001,0,0,.0016,
-.0011,.0009,-.0007,.0004,-.0002,.0001];
const iVoidR = [
.72,0,.72,.001,.72,0,.721,0,.72,0,
.72,.001,.72,0,.72,0,.721,0,.72,.001,
.72,0,.72,0,.72,.001,.72,0,.721,0,
.72,0,.72,.001,.72,0,.72,0,.72,0,
.721,0,.72,0,.72,.001,.72,0,.72,0,
.72,0,.721,0,.72,0,.72,.001,.72,0,
.72,.001,.72,0,.721,0,.72,0,.72,0,
.72,0,.72,.001,.72,0,.72,0,.721,0,
.72,0,.72,0,.72,.001,.72,0,.72,0,
.721,.001,.72,0,.72,0,.72,0,.72,.001,
.72,0,.72,0,.721,0,.72,.001,.72,0,
.72,0,.722,0,.72,0,.721,0,.722,.001,
.721,0,.722,0,.723,0,.722,.001,.723,0,
.722,0,.724,0,.723,.001,.724,0,.723,0,
.724,0,.723,0,.724,.001,.723,0,.722,0,
.723,0,.722,.001,.722,0,.721,0,.722,0,
.721,0,.72,0,.721,.001,.72,0,.72,0,
.72,.001,.72,0,.72,0,.721,0,.72,0,
.72,0,.721,0,.72,.001,.72,0,.72,0,
.721,0,.72,0,.72,0,.72,.001,.721,0,
.72,0,.72,.001,.72,0,.721,0,.72,0,
.721,0,.722,0,.721,.001,.722,0,.721,0,
.722,.001,.722,0,.723,0,.722,0,.723,.001,
.722,0,.723,0,.722,0,.723,.001,.722,0,
.722,0,.721,.001,.722,0,.721,0,.722,0,
.721,0,.722,0,.721,.001,.722,0,.722,0,
.723,0,.722,.001,.723,0,.722,0,.723,0,
.722,.001,.723,0,.722,0,.723,0,.722,.001,
.723,0,.722,0,.723,.001,.722,0,.723,0,
.722,0,.723,.001,.722,0];

// ---------- chart construction ----------
const FAMILY = "'Liberation Serif', 'DejaVu Serif', serif";
Chart.defaults.font.family = FAMILY;
Chart.defaults.color = '#000';
const RED = '#ff0000', BLUE = '#0000ff', BLACK = '#000000', CYAN = '#00ffff';
const COLS = [
  {left: 0, w: 660, plotL: 106, plotR: 647, titlePad: 8},
  {left: 690, w: 680, plotL: 804, plotR: 1344, titlePad: 9}
];
const ROW_TOPS = [10, 148, 286, 424, 562, 700, 838];
const fig = document.getElementById('fig');
const fmt = (v, d) => (v < -1e-12 ? '\u2212' : '') + Math.abs(v).toFixed(d);
const xy = (xs, ys) => ys.map((y, i) => ({x: xs[i], y}));
const pairs = arr => arr.map(p => ({x: p[0], y: p[1]}));

const frameLegend = {
  id: 'frameLegend',
  afterDatasetsDraw(chart, args, opts) {
    const ctx = chart.ctx, a = chart.chartArea;
    ctx.save();
    ctx.strokeStyle = '#000'; ctx.lineWidth = 1.2;
    ctx.strokeRect(a.left, a.top, a.right - a.left, a.bottom - a.top);
    if (opts && opts.show) {
      const items = chart.data.datasets;
      const fs = 19;
      const font = fs + 'px ' + FAMILY, ifont = 'italic ' + fs + 'px ' + FAMILY, sfont = 'italic 14px ' + FAMILY;
      const measure = d => {
        if (!d.math) { ctx.font = font; return ctx.measureText(d.label).width; }
        const parts = d.label.split('_');
        ctx.font = ifont; let w = ctx.measureText(parts[0]).width;
        if (parts[1]) { ctx.font = sfont; w += ctx.measureText(parts[1]).width + 1; }
        return w;
      };
      const tw = Math.max(...items.map(measure), 10);
      const bw = Math.round(8 + 38 + 15 + tw + 9), bh = 33 + 30 * (items.length - 1);
      const bx = Math.round(a.right - 10 - bw), by = Math.round((a.top + a.bottom) / 2 - bh / 2);
      ctx.beginPath();
      if (ctx.roundRect) ctx.roundRect(bx + 0.5, by + 0.5, bw, bh, 4); else ctx.rect(bx + 0.5, by + 0.5, bw, bh);
      ctx.fillStyle = 'rgba(255,255,255,0.8)'; ctx.fill();
      ctx.strokeStyle = '#cccccc'; ctx.lineWidth = 1; ctx.stroke();
      items.forEach((d, i) => {
        const y = by + 16.5 + 30 * i;
        ctx.strokeStyle = d.borderColor; ctx.lineWidth = 1.5;
        ctx.beginPath(); ctx.moveTo(bx + 8, y); ctx.lineTo(bx + 46, y); ctx.stroke();
        ctx.fillStyle = '#000'; ctx.textAlign = 'left'; ctx.textBaseline = 'alphabetic';
        const tx = bx + 61, ty = y + 6;
        if (!d.math) { ctx.font = font; ctx.fillText(d.label, tx, ty); }
        else {
          const parts = d.label.split('_');
          ctx.font = ifont; ctx.fillText(parts[0], tx, ty);
          if (parts[1]) { const w = ctx.measureText(parts[0]).width; ctx.font = sfont; ctx.fillText(parts[1], tx + w + 1, ty + 4); }
        }
      });
    }
    ctx.restore();
  }
};

function makePanel(p) {
  const col = COLS[p.col];
  const last = p.row === 6;
  const top = ROW_TOPS[p.row] - 8;
  const h = last ? 1016 - top : 136;
  const cv = document.createElement('canvas');
  cv.width = col.w; cv.height = h;
  cv.style.left = col.left + 'px'; cv.style.top = top + 'px';
  cv.style.width = col.w + 'px'; cv.style.height = h + 'px';
  fig.appendChild(cv);
  const n = p.series.length;
  const datasets = p.series.map((s, k) => ({
    label: s.label, math: !!s.math, data: s.data,
    borderColor: s.color, backgroundColor: s.color, borderWidth: s.width || 1.5,
    pointRadius: 0, pointHoverRadius: 0, fill: false, tension: 0,
    cubicInterpolationMode: s.smooth ? 'monotone' : 'default',
    stepped: s.stepped || false, order: n - k
  }));
  const tickGrid = {display: true, drawOnChartArea: false, drawTicks: true, tickLength: 6.6, color: '#000', lineWidth: 1.2};
  new Chart(cv, {
    type: 'line',
    data: {datasets},
    plugins: [frameLegend],
    options: {
      responsive: false, animation: false, devicePixelRatio: 1, events: [],
      layout: {padding: {left: 0, top: 8, bottom: 0, right: col.w - (col.plotR - col.left)}},
      plugins: {legend: {display: false}, tooltip: {enabled: false}, frameLegend: {show: !!p.legend}},
      scales: {
        x: {
          type: 'linear', min: 0.05, max: 3.0,
          afterBuildTicks: s => { s.ticks = timeTicks.map(v => ({value: v})); },
          afterFit: s => { s.height = last ? 58 : 8; s.paddingLeft = 0; s.paddingRight = 0; },
          grid: tickGrid, border: {display: false},
          ticks: {display: last, font: {size: 19}, color: '#000', padding: 5, maxRotation: 0, autoSkip: false,
                  callback: v => v.toFixed(1)},
          title: {display: last, text: 'Time [s]', font: {size: 20}, color: '#000', padding: {top: 0, bottom: 0}}
        },
        y: {
          type: 'linear', min: p.ymin, max: p.ymax,
          afterBuildTicks: s => { s.ticks = p.ticks.map(v => ({value: v})); },
          afterFit: s => { s.width = col.plotL - col.left; s.paddingTop = 0; s.paddingBottom = 0; },
          grid: tickGrid, border: {display: false},
          ticks: {font: {size: 19}, color: '#000', padding: 7, labelOffset: 1.5, autoSkip: false, callback: v => fmt(v, p.dec)},
          title: {display: true, text: p.ylabel, font: {size: 20}, color: '#000', padding: {top: col.titlePad, bottom: 0}}
        }
      }
    }
  });
}

const fSeries = () => [{label: 'f', math: true, color: BLACK, data: xy(tCoarse, freq), smooth: true}];
const mawSeries = () => [
  {label: 'n', math: true, color: BLACK, data: xy(tCoarse, maw), smooth: true},
  {label: 'n_r', math: true, color: CYAN, data: xy(tStep, nrStep), stepped: 'before'}
];

const panels = [
  {col: 0, row: 0, ylabel: 'Frequency [Hz]', ymin: 49.45, ymax: 50.55, ticks: fTicks, dec: 1, legend: true, series: fSeries()},
  {col: 0, row: 1, ylabel: 'MAW', ymin: 395.6, ymax: 404.4, ticks: mawTicks, dec: 1, legend: true, series: mawSeries()},
  {col: 0, row: 2, ylabel: 'Active [W]', ymin: 0.49643, ymax: 0.525, ticks: wTicksL, dec: 2, legend: true, series: [
    {label: 'lvtd', color: RED, data: pairs(wLvtdL), width: 1.8},
    {label: 'cvtd', color: BLUE, data: xy(tFine, wCvtdL)}]},
  {col: 0, row: 3, ylabel: 'Reactive [Var]', ymin: 0.47206, ymax: 0.50735, ticks: varTicksL, dec: 2, series: [
    {label: 'lvtd', color: RED, data: pairs(varLvtdL)},
    {label: 'cvtd', color: BLUE, data: pairs(varCvtdL)}]},
  {col: 0, row: 4, ylabel: 'Active [A]', ymin: -0.789, ymax: 0.789, ticks: ampTicks, dec: 1, series: [
    {label: 'cvtd', color: BLUE, data: xy(tFine, iActive), width: 2}]},
  {col: 0, row: 5, ylabel: 'Reactive [A]', ymin: -0.789, ymax: 0.789, ticks: ampTicks, dec: 1, series: [
    {label: 'cvtd', color: BLUE, data: xy(tFine, iReactiveL), width: 2}]},
  {col: 0, row: 6, ylabel: 'Void [A]', ymin: -0.01309, ymax: 0.00873, ticks: voidTicksL, dec: 2, series: [
    {label: 'lvtd', color: RED, data: xy(tFine, voidLvtdL)},
    {label: 'cvtd', color: BLUE, data: xy(tFine, voidCvtdL)}]},

  {col: 1, row: 0, ylabel: 'Frequency [Hz]', ymin: 49.45, ymax: 50.55, ticks: fTicks, dec: 1, legend: true, series: fSeries()},
  {col: 1, row: 1, ylabel: 'MAW', ymin: 395.6, ymax: 404.4, ticks: mawTicks, dec: 1, legend: true, series: mawSeries()},
  {col: 1, row: 2, ylabel: 'Active [W]', ymin: 0.49538, ymax: 0.51846, ticks: wTicksR, dec: 2, legend: true, series: [
    {label: 'lvtd', color: RED, data: xy(tFine, wLvtdR)},
    {label: 'cvtd', color: BLUE, data: xy(tFine, wCvtdR)}]},
  {col: 1, row: 3, ylabel: 'Reactive [Var]', ymin: -0.00424, ymax: 0.00593, ticks: varTicksR, dec: 3, series: [
    {label: 'lvtd', color: RED, data: xy(tFine, varLvtdR)},
    {label: 'cvtd', color: BLUE, data: xy(tFine, varCvtdR)}]},
  {col: 1, row: 4, ylabel: 'Active [A]', ymin: -0.789, ymax: 0.789, ticks: ampTicks, dec: 1, series: [
    {label: 'cvtd', color: BLUE, data: xy(tFine, iActive), width: 2}]},
  {col: 1, row: 5, ylabel: 'Reactive [A]', ymin: -0.00812, ymax: 0.00747, ticks: raTicksR, dec: 3, series: [
    {label: 'lvtd', color: RED, data: xy(tFine, raLvtdR)},
    {label: 'cvtd', color: BLUE, data: xy(tFine, raCvtdR)}]},
  {col: 1, row: 6, ylabel: 'Void [A]', ymin: -0.04, ymax: 0.76, ticks: voidTicksR, dec: 1, series: [
    {label: 'cvtd', color: BLUE, data: xy(tFine, iVoidR), width: 4.5}]}
];
panels.forEach(makePanel);
</script>
</body></html>
